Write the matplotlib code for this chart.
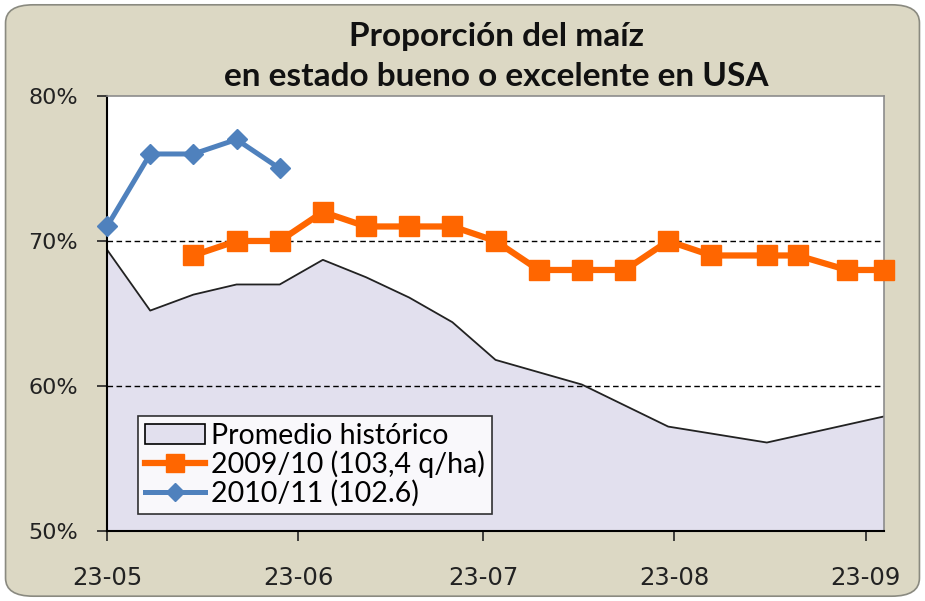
import pandas as pd
import matplotlib
matplotlib.use('Agg')
import matplotlib.pyplot as plt
import matplotlib.dates as mdates
from matplotlib.patches import Patch, FancyBboxPatch
from matplotlib.lines import Line2D

# Datos (porcentaje en estado bueno o excelente)
fechas_hist = ['2010-05-23', '2010-05-30', '2010-06-06', '2010-06-13', '2010-06-20',
               '2010-06-27', '2010-07-04', '2010-07-11', '2010-07-18', '2010-07-25',
               '2010-08-08', '2010-08-22', '2010-09-07', '2010-09-26']
promedio_hist = [69.4, 65.2, 66.3, 67.0, 67.0, 68.7, 67.5, 66.1, 64.4, 61.8,
                 60.1, 57.2, 56.1, 57.9]

fechas_0910 = ['2010-06-06', '2010-06-13', '2010-06-20', '2010-06-27', '2010-07-04',
               '2010-07-11', '2010-07-18', '2010-07-25', '2010-08-01', '2010-08-08',
               '2010-08-15', '2010-08-22', '2010-08-29', '2010-09-07', '2010-09-12',
               '2010-09-20', '2010-09-26']
valores_0910 = [69, 70, 70, 72, 71, 71, 71, 70, 68, 68, 68, 70, 69, 69, 69, 68, 68]

fechas_1011 = ['2010-05-23', '2010-05-30', '2010-06-06', '2010-06-13', '2010-06-20']
valores_1011 = [71, 76, 76, 77, 75]

ticks_x = ['2010-05-23', '2010-06-23', '2010-07-23', '2010-08-23', '2010-09-23']
ticks_y = [50, 60, 70, 80]

plt.rcParams['font.family'] = ['Lato', 'DejaVu Sans']

naranja = '#FF6600'
azul = '#4F81BD'
lavanda = '#E2E0EE'

fig = plt.figure(figsize=(9.25, 6.01), dpi=100, facecolor='white')

# fondo beige redondeado
fondo = FancyBboxPatch((0.006, 0.008), 0.988, 0.984, boxstyle='round,pad=0,rounding_size=0.03',
                       transform=fig.transFigure, facecolor='#DCD8C4', edgecolor='#8A8A80',
                       linewidth=1.2, zorder=-10)
fig.patches.append(fondo)

ax = fig.add_axes([0.1157, 0.1165, 0.84, 0.7238])
ax.set_facecolor('white')

xh = pd.to_datetime(fechas_hist)
x0910 = pd.to_datetime(fechas_0910)
x1011 = pd.to_datetime(fechas_1011)

ax.fill_between(xh, 50, promedio_hist, facecolor=lavanda, edgecolor='none', zorder=1)
ax.plot(xh, promedio_hist, color='#222222', linewidth=1.3, zorder=2)

for y in [60, 70]:
    ax.axhline(y, color='black', linewidth=1.0, linestyle=(0, (4, 2.5)), zorder=1.5)

ax.plot(x0910, valores_0910, color=naranja, linewidth=4.5, marker='s', markersize=15,
        zorder=4, clip_on=False)
ax.plot(x1011, valores_1011, color=azul, linewidth=3.6, marker='D', markersize=10,
        zorder=5, clip_on=False)

ax.set_xlim(pd.Timestamp('2010-05-23'), pd.Timestamp('2010-09-26'))
ax.set_ylim(50, 80)
ax.set_xticks(pd.to_datetime(ticks_x))
ax.xaxis.set_major_formatter(mdates.DateFormatter('%d-%m'))
ax.set_yticks(ticks_y)
ax.set_yticklabels([f'{v}%' for v in ticks_y])
ax.tick_params(axis='both', colors='#222222', length=7, width=1.2)
ax.tick_params(axis='x', pad=18)
ax.tick_params(axis='y', pad=14)
for t in ax.get_xticklabels():
    t.set_fontfamily('DejaVu Sans')
    t.set_fontsize(17.5)
for t in ax.get_yticklabels():
    t.set_fontfamily('DejaVu Sans')
    t.set_fontsize(16)

for lado in ['top', 'right']:
    ax.spines[lado].set_color('#8C8C8C')
    ax.spines[lado].set_linewidth(1.2)
for lado in ['left', 'bottom']:
    ax.spines[lado].set_color('black')
    ax.spines[lado].set_linewidth(1.5)

fig.text(0.537, 0.94, 'Proporción del maíz', ha='center', va='center',
         fontsize=24, fontweight='bold', color='#111111')
fig.text(0.537, 0.872, 'en estado bueno o excelente en USA', ha='center', va='center',
         fontsize=24, fontweight='bold', color='#111111')

handles = [
    Patch(facecolor=lavanda, edgecolor='black', linewidth=1.2),
    Line2D([], [], color=naranja, linewidth=4.5, marker='s', markersize=13),
    Line2D([], [], color=azul, linewidth=3.6, marker='D', markersize=9),
]
labels = ['Promedio histórico', '2009/10 (103,4 q/ha)', '2010/11 (102.6)']
leg = ax.legend(handles, labels, loc='lower left', bbox_to_anchor=(0.04, 0.04),
                fontsize=20.5, frameon=True, fancybox=False, handlelength=2.1,
                handletextpad=0.2, labelspacing=0.05, borderpad=0.25, borderaxespad=0)
leg.get_frame().set_edgecolor('black')
leg.get_frame().set_linewidth(1.2)
leg.get_frame().set_facecolor('white')
leg.set_zorder(6)

fig.savefig('out.png', dpi=100, facecolor=fig.get_facecolor())
